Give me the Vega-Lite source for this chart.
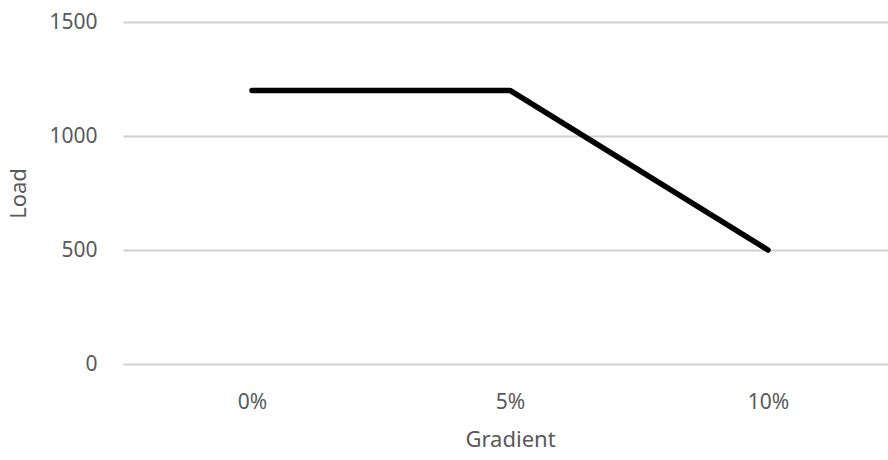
{
  "$schema": "https://vega.github.io/schema/vega-lite/v6.json",
  "autosize": "none",
  "padding": {"left": 123, "top": 22, "right": 0, "bottom": 96},
  "width": 774,
  "height": 342,
  "background": "white",
  "config": {
    "view": {"stroke": null},
    "font": "Noto Sans"
  },
  "data": {
    "values": [
      {"gradient": "0%", "load": 1200},
      {"gradient": "5%", "load": 1200},
      {"gradient": "10%", "load": 500}
    ]
  },
  "mark": {"type": "line", "color": "black", "strokeWidth": 5.5, "strokeCap": "round", "strokeJoin": "round"},
  "encoding": {
    "x": {
      "field": "gradient",
      "type": "ordinal",
      "sort": ["0%", "5%", "10%"],
      "scale": {"type": "point", "padding": 0.5},
      "axis": {
        "title": "Gradient",
        "labelAngle": 0,
        "domain": false,
        "ticks": false,
        "grid": false,
        "labelFont": "Noto Sans",
        "labelFontSize": 21,
        "labelColor": "#595959",
        "labelPadding": 27,
        "titleFont": "Noto Sans",
        "titleFontSize": 22,
        "titleFontWeight": "normal",
        "titleColor": "#595959",
        "titlePadding": 17
      }
    },
    "y": {
      "field": "load",
      "type": "quantitative",
      "scale": {"domain": [0, 1500], "nice": false},
      "axis": {
        "title": "Load",
        "values": [0, 500, 1000, 1500],
        "format": "d",
        "domain": false,
        "ticks": false,
        "grid": true,
        "gridColor": "#d0d0d0",
        "gridWidth": 2,
        "labelFont": "Noto Sans",
        "labelFontSize": 21,
        "labelColor": "#595959",
        "labelPadding": 26,
        "titleFont": "Noto Sans",
        "titleFontSize": 22,
        "titleFontWeight": "normal",
        "titleColor": "#595959",
        "titlePadding": 18
      }
    }
  }
}
